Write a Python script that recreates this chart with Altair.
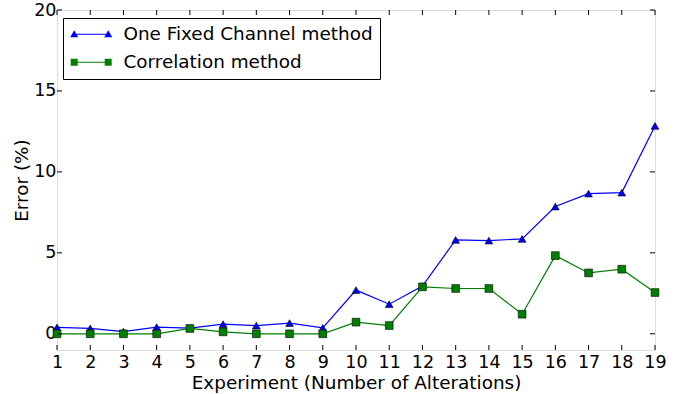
import altair as alt
import pandas as pd

experiments = list(range(1, 20))
one_fixed = [0.40, 0.33, 0.14, 0.41, 0.35, 0.60, 0.51, 0.66, 0.37, 2.70,
             1.83, 2.95, 5.80, 5.76, 5.86, 7.86, 8.66, 8.72, 12.84]
correlation = [0.0, 0.0, 0.0, 0.0, 0.33, 0.12, 0.0, 0.0, 0.0, 0.72,
               0.51, 2.90, 2.80, 2.80, 1.21, 4.83, 3.76, 3.99, 2.55]
series_names = ["One Fixed Channel method", "Correlation method"]
series_colors = ["#0000ff", "#008000"]
marker_shapes = ["triangle-up", "square"]
y_ticks = [0, 5, 10, 15, 20]

rows = []
for name, vals in zip(series_names, [one_fixed, correlation]):
    for x, v in zip(experiments, vals):
        rows.append({"experiment": x, "error": v, "series": name})
df = pd.DataFrame(rows)

W, H = 598, 340
FONT = "DejaVu Sans"
TICK_FS = 17.5
TITLE_FS = 18.4

xscale = alt.Scale(domain=[1, 19], nice=False, zero=False)
yscale = alt.Scale(domain=[-1, 20], nice=False, zero=False)
color_scale = alt.Scale(domain=series_names, range=series_colors)
shape_scale = alt.Scale(domain=series_names, range=marker_shapes)

tri_path = ("M-3.4,-0.1L3.4,-0.1L3.4,0.1L-3.4,0.1Z"
            "M-4.2,0.6L-3.4,-0.8L-2.6,0.6Z"
            "M2.6,0.6L3.4,-0.8L4.2,0.6Z")
sq_path = ("M-3.4,-0.1L3.4,-0.1L3.4,0.1L-3.4,0.1Z"
           "M-4.1,-0.7L-2.7,-0.7L-2.7,0.7L-4.1,0.7Z"
           "M2.7,-0.7L4.1,-0.7L4.1,0.7L2.7,0.7Z")
legend_shape_scale = alt.Scale(domain=series_names, range=[tri_path, sq_path])

x_axis = alt.Axis(values=experiments, format="d", title="Experiment (Number of Alterations)",
                  labelFontSize=TICK_FS, titleFontSize=TITLE_FS, tickSize=0, domain=False, grid=False,
                  labelPadding=3, titlePadding=3, labelColor="black", titleColor="black",
                  labelOverlap=False, labelFlush=False, labelBound=False,
                  titleFontWeight="normal", labelFont=FONT, titleFont=FONT)
y_axis = alt.Axis(values=y_ticks, title="Error (%)",
                  labelFontSize=TICK_FS, titleFontSize=TITLE_FS, tickSize=0, domain=False, grid=False,
                  labelPadding=1, titlePadding=2, labelColor="black", titleColor="black",
                  labelOverlap=False, labelFlush=False,
                  titleFontWeight="normal", labelFont=FONT, titleFont=FONT)

def xe(field):
    return alt.X(field, scale=xscale, axis=x_axis)

def ye(field):
    return alt.Y(field, scale=yscale, axis=y_axis)

lines = alt.Chart(df).mark_line(strokeWidth=1.2).encode(
    x=xe("experiment:Q"), y=ye("error:Q"),
    color=alt.Color("series:N", scale=color_scale, legend=None),
    detail="series:N",
)

points = alt.Chart(df).mark_point(filled=True, size=60, stroke="black", strokeWidth=0.6, opacity=1).encode(
    x=xe("experiment:Q"), y=ye("error:Q"),
    color=alt.Color("series:N", scale=color_scale, legend=None),
    fill=alt.Fill("series:N", scale=color_scale, legend=None),
    shape=alt.Shape("series:N", scale=shape_scale, legend=None),
)

legend = alt.Legend(
    title=None, orient="none", legendX=6, legendY=8,
    labelFontSize=TITLE_FS, labelFont=FONT, labelColor="black", labelLimit=0,
    padding=7, rowPadding=9, symbolSize=100, symbolOffset=12, labelOffset=23,
    symbolStrokeWidth=0, symbolOpacity=1,
    strokeColor="black", fillColor="white", cornerRadius=0,
)

legend_layer = alt.Chart(df).transform_filter("false").mark_point(filled=True, size=100).encode(
    x=xe("experiment:Q"), y=ye("error:Q"),
    color=alt.Color("series:N", scale=color_scale, legend=legend),
    shape=alt.Shape("series:N", scale=legend_shape_scale, legend=legend),
)

tick_df = pd.DataFrame({"error": y_ticks})
xtick_df = pd.DataFrame({"experiment": experiments})
yticks_left = alt.Chart(tick_df).mark_rule(color="black", strokeWidth=1).encode(
    y=ye("error:Q"), x=alt.value(0), x2=alt.value(5))
yticks_right = alt.Chart(tick_df).mark_rule(color="black", strokeWidth=1).encode(
    y=ye("error:Q"), x=alt.value(W - 5), x2=alt.value(W))
xticks_top = alt.Chart(xtick_df).mark_rule(color="black", strokeWidth=1).encode(
    x=xe("experiment:Q"), y=alt.value(0), y2=alt.value(5))
xticks_bot = alt.Chart(xtick_df).mark_rule(color="black", strokeWidth=1).encode(
    x=xe("experiment:Q"), y=alt.value(H - 5), y2=alt.value(H))

chart = alt.layer(lines, points, legend_layer, yticks_left, yticks_right, xticks_top, xticks_bot).resolve_scale(
    shape="independent", color="independent", fill="independent"
).resolve_legend(shape="independent", color="independent").properties(
    width=W, height=H,
    autosize=alt.AutoSizeParams(type="none"),
    padding={"left": 57, "top": 10, "right": 34, "bottom": 44},
).configure_view(stroke="black", strokeWidth=1.2).configure(font=FONT, background="white")

chart.save("out.html", embed_options={"renderer": "svg", "actions": False})
